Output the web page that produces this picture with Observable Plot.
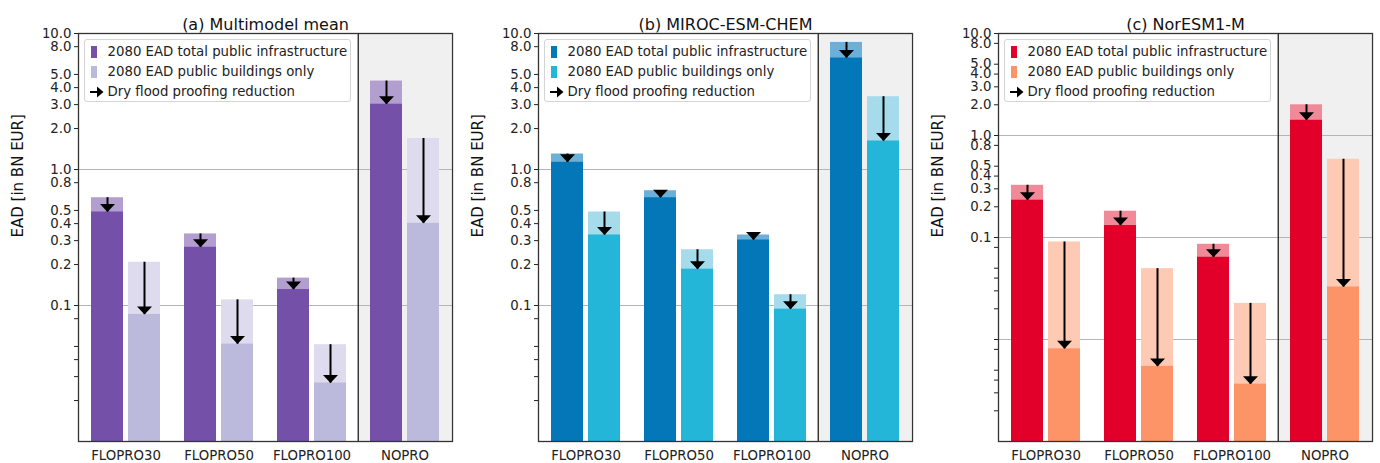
<!DOCTYPE html>
<html><head><meta charset="utf-8">
<script src="https://cdn.jsdelivr.net/npm/d3@7"></script>
<script src="https://cdn.jsdelivr.net/npm/@observablehq/plot@0.6"></script>
<style>
body{margin:0;background:#fff;font-family:"DejaVu Sans",sans-serif;}
#root{position:relative;width:1380px;height:463px;overflow:hidden;}
.panel{position:absolute;top:0;width:460px;height:463px;}
.legend{position:absolute;left:84px;top:39px;width:267px;height:63px;border:1px solid #d4d4d4;border-radius:3px;background:rgba(255,255,255,0.85);box-sizing:border-box;}
.row{position:absolute;left:0;height:20px;font-size:13.3px;color:#222;line-height:20px;white-space:nowrap;}
.row .sw{position:absolute;left:5.5px;top:4px;width:6px;height:12px;}
.row .lbl{position:absolute;left:22.5px;top:0;}
.row svg{position:absolute;left:4px;top:3px;}
</style></head><body><div id="root"></div>
<script>
const groups = ["FLOPRO30", "FLOPRO50", "FLOPRO100", "NOPRO"];
const legendLabels = ["2080 EAD total public infrastructure", "2080 EAD public buildings only", "Dry flood proofing reduction"];
const titles = ["(a) Multimodel mean", "(b) MIROC-ESM-CHEM", "(c) NorESM1-M"];
const yLabel = "EAD [in BN EUR]";

const ticksAB = [0.02, 0.03, 0.04, 0.05, 0.08, 0.1, 0.2, 0.3, 0.4, 0.5, 0.8, 1, 2, 3, 4, 5, 8, 10];
const ticksC = [0.002, 0.003, 0.004, 0.005, 0.008, 0.01, 0.02, 0.03, 0.04, 0.05, 0.08, 0.1, 0.2, 0.3, 0.4, 0.5, 0.8, 1, 2, 3, 4, 5, 8, 10];
const tickLabelValues = [0.1, 0.2, 0.3, 0.4, 0.5, 0.8, 1, 2, 3, 4, 5, 8, 10];
const tickLabelTexts = ["0.1", "0.2", "0.3", "0.4", "0.5", "0.8", "1.0", "2.0", "3.0", "4.0", "5.0", "8.0", "10.0"];
const domainAB = [0.01, 10];
const domainC = [0.001, 10];
const gridAB = [0.1, 1];
const gridC = [0.01, 0.1, 1];

// (a) Multimodel mean
const mmTotalBefore = [0.62, 0.336, 0.159, 4.47];
const mmTotalAfter = [0.487, 0.268, 0.131, 3.02];
const mmBldgBefore = [0.208, 0.110, 0.0515, 1.69];
const mmBldgAfter = [0.086, 0.052, 0.0269, 0.402];
// (b) MIROC-ESM-CHEM
const miTotalBefore = [1.30, 0.698, 0.330, 8.60];
const miTotalAfter = [1.13, 0.620, 0.303, 6.60];
const miBldgBefore = [0.487, 0.257, 0.120, 3.43];
const miBldgAfter = [0.330, 0.185, 0.094, 1.62];
// (c) NorESM1-M
const noTotalBefore = [0.325, 0.181, 0.0858, 2.0];
const noTotalAfter = [0.232, 0.131, 0.064, 1.41];
const noBldgBefore = [0.0904, 0.0495, 0.0226, 0.585];
const noBldgAfter = [0.0081, 0.00545, 0.00365, 0.0327];

const colorsA = {c1: "#7450a8", c1l: "#b29fcf", c2: "#bbb9dc", c2l: "#dddbed"};
const colorsB = {c1: "#0477b9", c1l: "#6cb0d9", c2: "#24b6d8", c2l: "#a6dbeb"};
const colorsC = {c1: "#e2002a", c1l: "#f08a98", c2: "#fc9468", c2l: "#fecab4"};

const tri = {draw(ctx) { ctx.moveTo(-7.5, -8); ctx.lineTo(7.5, -8); ctx.lineTo(0, 0); ctx.closePath(); }};

function panel(title, tb, ta, bb, ba, domain, ticks, grid, col) {
  const rows = [];
  groups.forEach((g, i) => {
    rows.push({group: g, series: "total", before: tb[i], after: ta[i]});
    rows.push({group: g, series: "bldg", before: bb[i], after: ba[i]});
  });
  const total = rows.filter(d => d.series === "total");
  const bldg = rows.filter(d => d.series === "bldg");
  const tickLabels = tickLabelValues.map((v, i) => ({v, t: tickLabelTexts[i]}));
  const [ymin, ymax] = domain;
  const inset = 37, off = 18.5;
  return Plot.plot({
    width: 460, height: 463,
    marginLeft: 78, marginRight: 8, marginTop: 33, marginBottom: 22,
    style: {fontFamily: "DejaVu Sans", fontSize: "13.3px", color: "#222", background: "transparent", overflow: "visible"},
    x: {domain: groups, paddingInner: 0.26, paddingOuter: 0.13, label: null, tickSize: 0, tickPadding: 9},
    y: {type: "log", domain, ticks, tickFormat: () => "", label: null, tickSize: 4, tickPadding: 3},
    marks: [
      Plot.barY(["NOPRO"], {x: d => d, y1: ymin, y2: ymax, fill: "#f0f0f0", insetLeft: -12.16, insetRight: -12.16}),
      Plot.ruleY(grid, {stroke: "#b5b5b5", strokeWidth: 1}),
      Plot.barY(total, {x: "group", y1: ymin, y2: "before", fill: col.c1l, insetRight: inset}),
      Plot.barY(total, {x: "group", y1: ymin, y2: "after", fill: col.c1, insetRight: inset}),
      Plot.barY(bldg, {x: "group", y1: ymin, y2: "before", fill: col.c2l, insetLeft: inset}),
      Plot.barY(bldg, {x: "group", y1: ymin, y2: "after", fill: col.c2, insetLeft: inset}),
      Plot.ruleX(total, {x: "group", y1: "before", y2: "after", dx: -off, stroke: "black", strokeWidth: 2}),
      Plot.ruleX(bldg, {x: "group", y1: "before", y2: "after", dx: off, stroke: "black", strokeWidth: 2}),
      Plot.dot(total, {x: "group", y: "after", dx: -off, symbol: tri, fill: "black"}),
      Plot.dot(bldg, {x: "group", y: "after", dx: off, symbol: tri, fill: "black"}),
      Plot.ruleX(["NOPRO"], {x: d => d, dx: -46.75, stroke: "#222", strokeWidth: 1.3}),
      Plot.frame({stroke: "#333", strokeWidth: 1.3}),
      Plot.text(tickLabels, {y: "v", text: "t", frameAnchor: "left", dx: -7, textAnchor: "end", fontSize: 13.3, fill: "#222"}),
      Plot.text([title], {text: d => d, frameAnchor: "top", dy: -15, fontSize: 16, fill: "#111"}),
      Plot.text([yLabel], {text: d => d, frameAnchor: "left", dx: -60, rotate: -90, fontSize: 15, fill: "#111"})
    ]
  });
}

function legend(col) {
  const lg = document.createElement("div");
  lg.className = "legend";
  const mk = (i, inner) => {
    const r = document.createElement("div");
    r.className = "row";
    r.style.top = (2 + i * 20) + "px";
    r.innerHTML = inner + `<span class="lbl">${legendLabels[i]}</span>`;
    lg.appendChild(r);
  };
  mk(0, `<span class="sw" style="background:${col.c1}"></span>`);
  mk(1, `<span class="sw" style="background:${col.c2}"></span>`);
  mk(2, `<svg width="16" height="14"><line x1="1" y1="7" x2="9" y2="7" stroke="black" stroke-width="2"/><polygon points="8,1.5 14.5,7 8,12.5" fill="black"/></svg>`);
  return lg;
}

const root = document.getElementById("root");
const specs = [
  [titles[0], mmTotalBefore, mmTotalAfter, mmBldgBefore, mmBldgAfter, domainAB, ticksAB, gridAB, colorsA],
  [titles[1], miTotalBefore, miTotalAfter, miBldgBefore, miBldgAfter, domainAB, ticksAB, gridAB, colorsB],
  [titles[2], noTotalBefore, noTotalAfter, noBldgBefore, noBldgAfter, domainC, ticksC, gridC, colorsC]
];
specs.forEach((s, i) => {
  const p = document.createElement("div");
  p.className = "panel";
  p.style.left = (i * 460) + "px";
  p.appendChild(panel(...s));
  p.appendChild(legend(s[8]));
  root.appendChild(p);
});
</script>
</body></html>
